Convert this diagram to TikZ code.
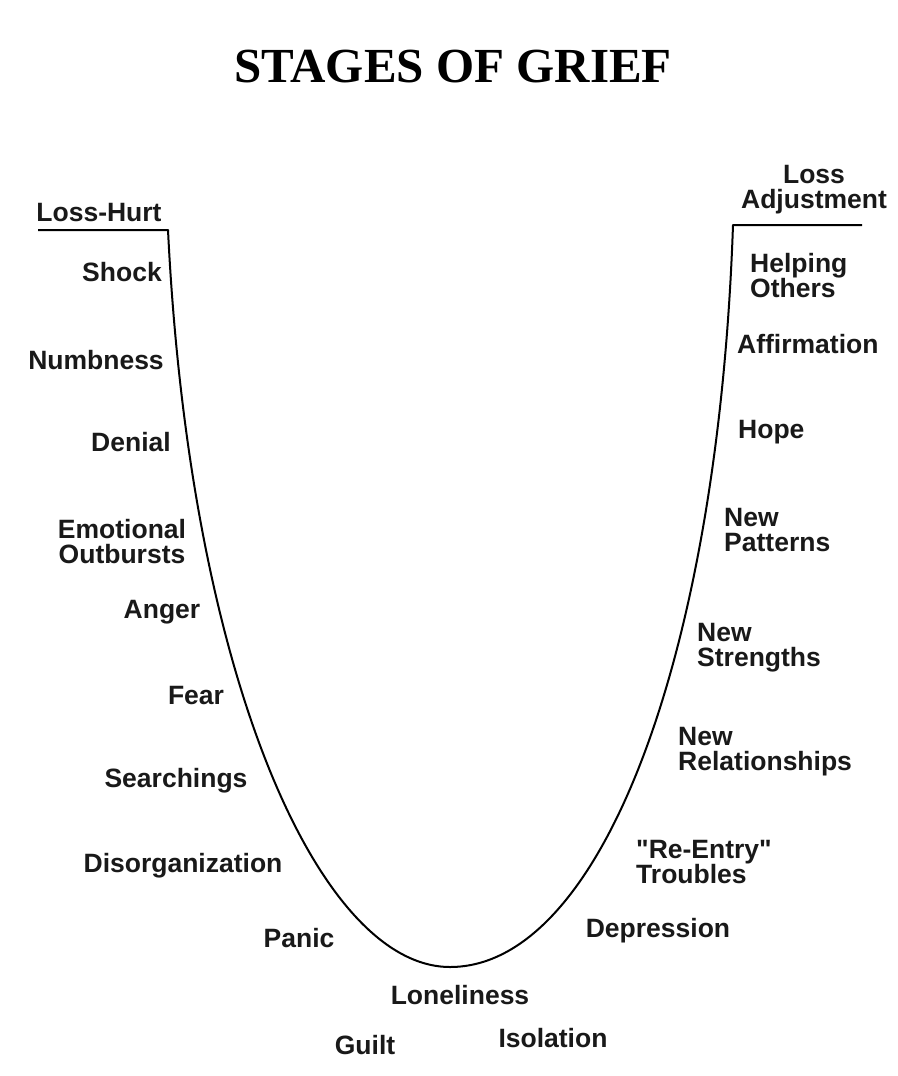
\documentclass[tikz,border=0pt]{standalone}
\usepackage{fontspec}
\setmainfont{Liberation Sans}[Ligatures=TeXOff]
\newfontfamily\titlefont{Liberation Serif}
\begin{document}
\begin{tikzpicture}[x=1pt,y=-1pt,
  lbl/.style={font=\bfseries\fontsize{26.5}{25}\selectfont, inner sep=0pt, align=center, text=black!90},
  rlbl/.style={lbl, anchor=west, align=left},
  curve/.style={line width=2pt, line join=round}]
\useasboundingbox[fill=white] (0,0) rectangle (897,1076);
\node[font=\titlefont\bfseries\fontsize{49}{49}\selectfont, inner sep=0pt] (title) at (453,67) {STAGES OF GRIEF};

\coordinate (lstart) at (38,230);
\coordinate (ltop) at (168,230);
\coordinate (bottom) at (450,967);
\coordinate (rtop) at (733,225);
\coordinate (rend) at (862,225);
\draw[curve] (lstart) -- (ltop)
  .. controls (190,680) and (320,967) .. (bottom)
  .. controls (600,967) and (718,660) .. (rtop)
  -- (rend);

\node[lbl] (losshurt) at (99,213) {Loss-Hurt};
\node[lbl] (shock) at (122,272) {Shock};
\node[lbl] (numb) at (96,360) {Numbness};
\node[lbl] (denial) at (131,442) {Denial};
\node[lbl] (emo) at (122,542) {Emotional\\Outbursts};
\node[lbl] (anger) at (162,612) {Anger};
\node[lbl] (fear) at (196,696) {Fear};
\node[lbl] (search) at (176,781) {Searchings};
\node[lbl] (disorg) at (183,866) {Disorganization};
\node[lbl] (panic) at (299,938) {Panic};
\node[lbl] (lonely) at (460,995) {Loneliness};
\node[lbl] (guilt) at (365,1045) {Guilt};
\node[lbl] (isol) at (553,1038) {Isolation};
\node[lbl] (depr) at (658,931) {Depression};
\node[rlbl] (reentry) at (636,862) {"Re-Entry"\\Troubles};
\node[rlbl] (newrel) at (678,752) {New\\Relationships};
\node[rlbl] (newstr) at (697,648) {New\\Strengths};
\node[rlbl] (newpat) at (724,530) {New\\Patterns};
\node[rlbl] (hope) at (738,432) {Hope};
\node[rlbl] (affirm) at (737,344) {Affirmation};
\node[rlbl] (help) at (750,276) {Helping\\Others};
\node[lbl] (lossadj) at (814,190) {Loss\\Adjustment};
\end{tikzpicture}
\end{document}
